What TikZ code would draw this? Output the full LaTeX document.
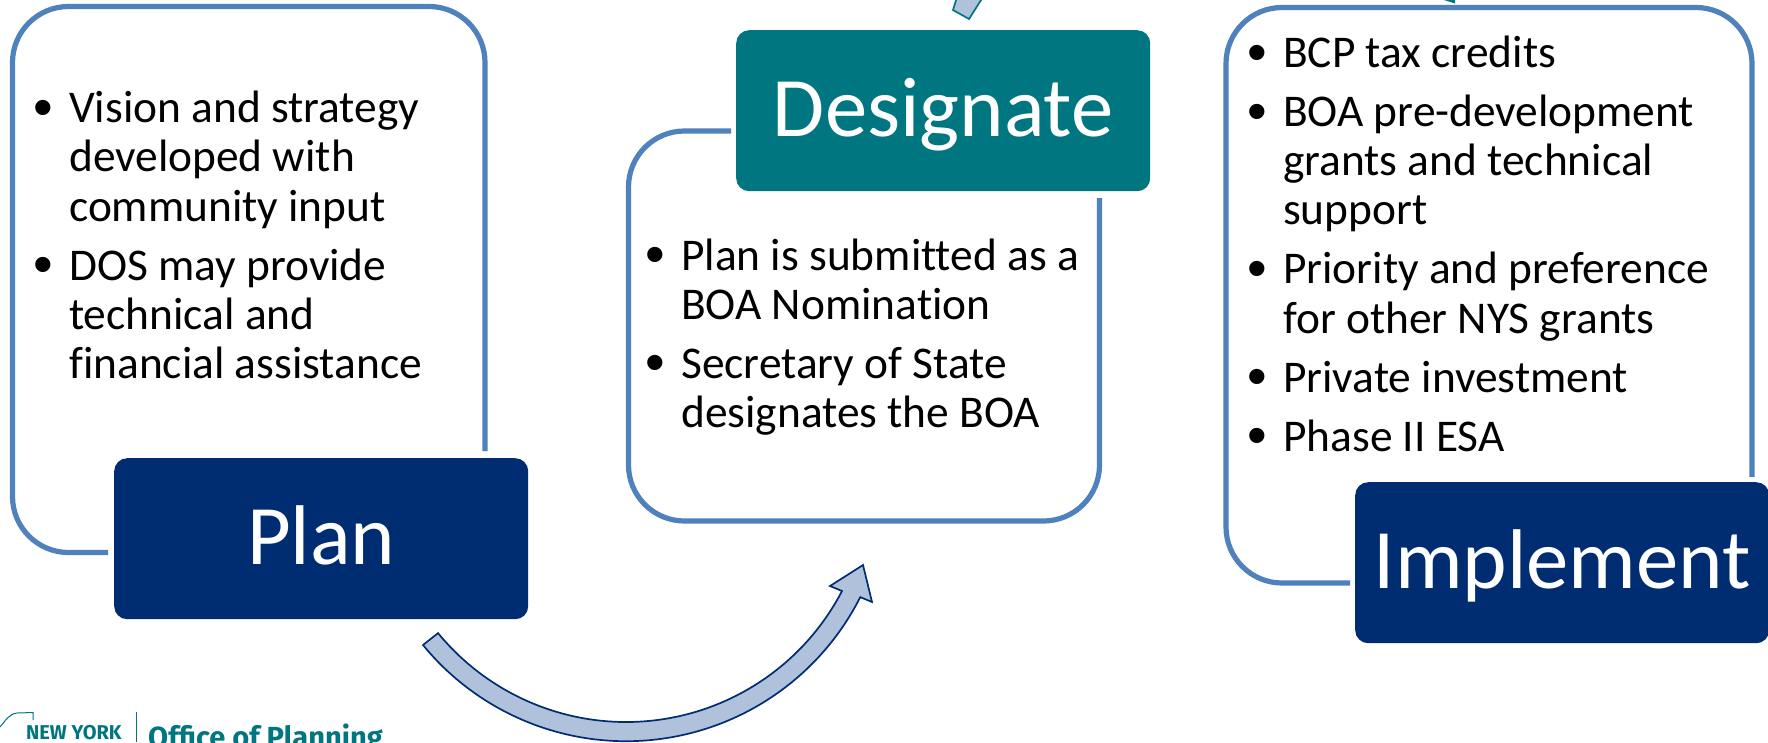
\documentclass[tikz,border=0pt]{standalone}
\usepackage{fontspec}
\setmainfont[Ligatures=NoCommon]{Carlito}
\newfontfamily\bulfont{Liberation Sans}
\newfontfamily\logofont{Fira Sans}
\definecolor{navy}{HTML}{002D72}
\definecolor{teal}{HTML}{007681}
\definecolor{panelblue}{HTML}{4F81BD}
\definecolor{arrowfill}{HTML}{B0C1DC}
\newcommand{\bul}{\leavevmode\llap{\raisebox{-3.5pt}{\bulfont\fontsize{56}{49.2}\selectfont •}\hspace{16pt}}}
\tikzset{
  x=1pt,y=-1pt,
  panel/.style={draw=panelblue,line width=5.2pt,rounded corners=56pt},
  titlebox/.style={rounded corners=13pt,inner sep=0pt,minimum width=414pt,text height=106pt,text depth=55pt,
    text=white,font=\fontsize{84.7}{90}\selectfont},
  bodytext/.style={anchor=base west,inner sep=0pt,font=\fontsize{45.4}{49.2}\selectfont},
  blockarrow/.style={fill=arrowfill,line width=1.7pt,line join=miter},
}
\begin{document}
\begin{tikzpicture}
\useasboundingbox[clip] (0,0) rectangle (1768,742);
\fill[white] (0,0) rectangle (1768,742);
% panels
\draw[panel] (108,552.5) -- (12.5,552.5) -- (12.5,6.5) -- (485,6.5) -- (485,451);
\draw[panel] (731,131) -- (628.5,131) -- (628.5,521) -- (1099.5,521) -- (1099.5,198);
\draw[panel] (1350,583) -- (1226,583) -- (1226,7.5) -- (1752,7.5) -- (1752,477);
% title boxes
\node[titlebox,fill=navy,anchor=north west] (plan) at (114,458) {Plan};
\node[titlebox,fill=teal,anchor=north west] (designate) at (736,30) {Designate};
\node[titlebox,fill=navy,anchor=north west] (implement) at (1355,482) {Implement};
% body text
\node[bodytext] (plantext) at (69,122.7) {\parbox[t]{400pt}{\bul Vision and strategy\\developed with\\community input\\[9.8pt]\bul DOS may provide\\technical and\\financial assistance}};
\node[bodytext] (designatetext) at (681,270) {\parbox[t]{400pt}{\bul Plan is submitted as a\\BOA Nomination\\[9.8pt]\bul Secretary of State\\designates the BOA}};
\node[bodytext] (implementtext) at (1283,67.5) {\parbox[t]{460pt}{\bul BCP tax credits\\[9.8pt]\bul BOA pre-development\\grants and technical\\support\\[9.8pt]\bul Priority and preference\\for other NYS grants\\[9.8pt]\bul Private investment\\[9.8pt]\bul Phase II ESA}};
% curved arrow
\draw[blockarrow,draw=navy] (423,645) arc[start angle=140.7,end angle=26.8,radius=262.4]
  -- (872,602) -- (863,565) -- (830,586) -- (842,591)
  arc[start angle=27.5,end angle=140.6,radius=243.4] -- cycle;
% arrow pieces at the top edge
\draw[blockarrow,draw=teal] (957,-3) -- (953,10) -- (969,19) -- (983,-3);
\fill[teal] (1444,0) -- (1455,3.5) -- (1455,0) -- cycle;
% logo
\draw[teal,line width=1pt] (0,727) .. controls (6,720) and (9,714) .. (17,713) -- (33,712.5) -- (33,720);
\draw[teal,line width=1pt] (136,712) -- (136,742);
\node[anchor=base west,inner sep=0pt,text=teal,font=\logofont\bfseries\fontsize{20}{22}\selectfont] (nylabel) at (26,739) {NEW YORK};
\node[anchor=base west,inner sep=0pt,text=teal,font=\logofont\bfseries\fontsize{29.1}{30}\selectfont] (oplabel) at (148,747) {Office of Planning};
\end{tikzpicture}
\end{document}
